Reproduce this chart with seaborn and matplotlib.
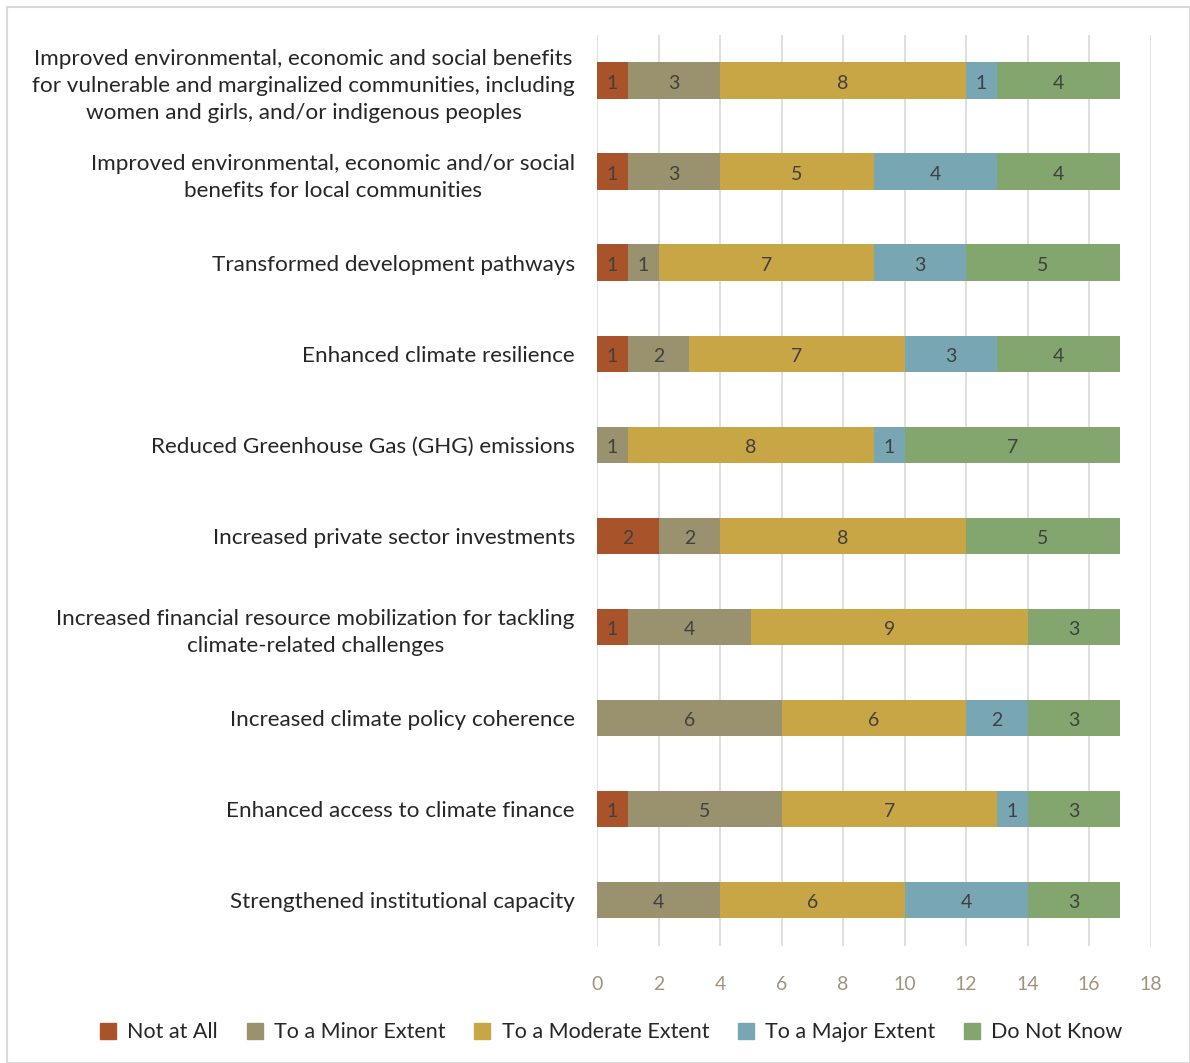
import matplotlib
matplotlib.use("Agg")
import matplotlib.pyplot as plt
import matplotlib.patches as mpatches
from matplotlib.lines import Line2D
import numpy as np
import pandas as pd
import seaborn as sns

categories = [
    "Improved environmental, economic and social benefits\nfor vulnerable and marginalized communities, including\nwomen and girls, and/or indigenous peoples",
    "Improved environmental, economic and/or social\nbenefits for local communities",
    "Transformed development pathways",
    "Enhanced climate resilience",
    "Reduced Greenhouse Gas (GHG) emissions",
    "Increased private sector investments",
    "Increased financial resource mobilization for tackling\nclimate-related challenges",
    "Increased climate policy coherence",
    "Enhanced access to climate finance",
    "Strengthened institutional capacity",
]

series_names = ["Not at All", "To a Minor Extent", "To a Moderate Extent",
                "To a Major Extent", "Do Not Know"]
not_at_all = [1, 1, 1, 1, 0, 2, 1, 0, 1, 0]
minor = [3, 3, 1, 2, 1, 2, 4, 6, 5, 4]
moderate = [8, 5, 7, 7, 8, 8, 9, 6, 7, 6]
major = [1, 4, 3, 3, 1, 0, 0, 2, 1, 4]
do_not_know = [4, 4, 5, 4, 7, 5, 3, 3, 3, 3]

colors = ["#A9532A", "#9A916E", "#C8A646", "#78A7B3", "#82A66E"]
x_ticks = [0, 2, 4, 6, 8, 10, 12, 14, 16, 18]

plt.rcParams["font.family"] = ["Lato", "DejaVu Sans"]

values = np.array([not_at_all, minor, moderate, major, do_not_know], dtype=float)
cum = np.cumsum(values, axis=0)
df = pd.DataFrame({"category": categories})
for i, name in enumerate(series_names):
    df[name] = cum[i]

fig = plt.figure(figsize=(11.9, 10.63), dpi=100)
ax = fig.add_axes([0.5017, 0.1105, 0.4653, 0.8565])

# stacked bars: draw cumulative totals from the outermost segment inward
for i in range(len(series_names) - 1, -1, -1):
    sns.barplot(data=df, y="category", x=series_names[i], color=colors[i],
                orient="h", width=0.4, ax=ax, saturation=1, zorder=2,
                linewidth=0)

# segment value labels
for j in range(len(categories)):
    for i in range(len(series_names)):
        v = values[i, j]
        if v <= 0:
            continue
        center = cum[i, j] - v / 2
        ax.text(center, j + 0.03, f"{int(v)}", ha="center", va="center",
                fontsize=14, color="#404040", zorder=3)

ax.set_xlim(0, 18)
ax.set_xticks(x_ticks)
ax.set_xticklabels([str(t) for t in x_ticks])
ax.set_xlabel("")
ax.set_ylabel("")
ax.grid(axis="x", color="#D9D9D9", linewidth=1.2, zorder=0)
ax.set_axisbelow(True)
for s in ax.spines.values():
    s.set_visible(False)
ax.tick_params(axis="x", length=0, colors="#A09480", labelsize=14, pad=22)
ax.tick_params(axis="y", length=0, labelsize=16.2, colors="#262626", pad=16)
for lbl in ax.get_yticklabels():
    lbl.set_multialignment("center")
    lbl.set_linespacing(1.45)

handles = [Line2D([0], [0], marker="s", linestyle="", markersize=11,
                  markerfacecolor=c, markeredgecolor=c) for c in colors]
fig.legend(handles, series_names, loc="center", bbox_to_anchor=(0.508, 0.029),
           ncol=5, frameon=False, fontsize=15.5, handletextpad=-0.1,
           columnspacing=0.7, labelcolor="#262626")

fig.patches.append(mpatches.Rectangle((0.006, 0.0), 0.994, 0.9935,
                                      transform=fig.transFigure, fill=False,
                                      edgecolor="#D9D9D9", linewidth=1.5))

fig.savefig("out.png", dpi=100)
